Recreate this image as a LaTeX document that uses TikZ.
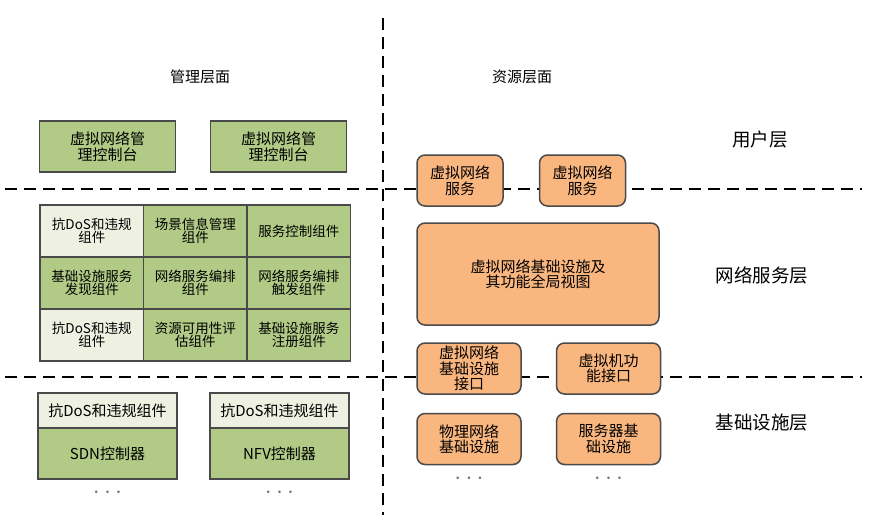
\documentclass[tikz,border=0pt]{standalone}
\usepackage{fontspec}
\setmainfont{Noto Sans CJK SC}
\usepackage{xcolor}
\definecolor{cGreen} {HTML}{B1CB86}
\definecolor{cLight} {HTML}{EEF1E2}
\definecolor{cOrange}{HTML}{F9B67F}
\definecolor{cEdge}  {HTML}{4A4A4A}
\usepackage{tikz}
\usetikzlibrary{positioning}
\tikzset{
  mgr/.style   = {rectangle, draw=cEdge, line width=1.5pt, fill=cGreen,
                  inner sep=0pt, outer sep=0pt, align=center,
                  minimum width=#1, minimum height=51pt,
                  font=\fontsize{15}{16}\selectfont},
  mgr/.default = 136pt,
  cell/.style  = {rectangle, draw=cEdge, line width=1.5pt, fill=cGreen,
                  inner sep=0pt, outer sep=0pt, align=center,
                  minimum width=103.5pt, minimum height=52pt,
                  font=\fontsize{13.5}{13}\selectfont},
  res/.style   = {rectangle, rounded corners=8pt, draw=cEdge, line width=1.5pt,
                  fill=cOrange, inner sep=0pt, align=center,
                  minimum width=#1, minimum height=51pt,
                  font=\fontsize{15}{15.5}\selectfont},
  res/.default = 104pt,
  sep/.style   = {line width=2pt, dash pattern=on 12pt off 7pt},
  lyr/.style   = {font=\fontsize{18.5}{20}\selectfont},
  ttl/.style   = {font=\fontsize{15}{16}\selectfont},
  more/.style  = {text=black!55, inner sep=0pt, font=\fontsize{24}{24}\selectfont},
}

\begin{document}
\begin{tikzpicture}[x=1pt, y=-1pt]
  \useasboundingbox (0,0) rectangle (880,520);

  % separators
  \coordinate (vtop) at (383,18);
  \coordinate (vbot) at (383,515);
  \coordinate (usrL) at (5,189);
  \coordinate (usrR) at (862,189);
  \coordinate (infL) at (5,377);
  \coordinate (infR) at (862,377);
  \draw[sep] (vtop) -- (vbot);
  \draw[sep] (usrL) -- (usrR);
  \draw[sep] (infL) -- (infR);

  \node[ttl] (mgmt) at (200,77) {管理层面};
  \node[ttl] (rsrc) at (522,77) {资源层面};

  \node[lyr] (user)  at (760,140) {用户层};
  \node[lyr] (nsvc)  at (762,275) {网络服务层};
  \node[lyr] (infra) at (762,423) {基础设施层};

  % management plane
  \node[mgr] (con1) at (107.5,146.5) {虚拟网络管\\理控制台};
  \node[mgr, right=35pt of con1] (con2) {虚拟网络管\\理控制台};

  \node[cell, fill=cLight] (g11) at (91.75,231) {抗DoS和违规\\组件};
  \node[cell, right=0pt of g11] (g12) {场景信息管理\\组件};
  \node[cell, right=0pt of g12] (g13) {服务控制组件};
  \node[cell, below=0pt of g11] (g21) {基础设施服务\\发现组件};
  \node[cell, right=0pt of g21] (g22) {网络服务编排\\组件};
  \node[cell, right=0pt of g22] (g23) {网络服务编排\\触发组件};
  \node[cell, fill=cLight, below=0pt of g21] (g31) {抗DoS和违规\\组件};
  \node[cell, right=0pt of g31] (g32) {资源可用性评\\估组件};
  \node[cell, right=0pt of g32] (g33) {基础设施服务\\注册组件};

  \node[mgr=139pt, fill=cLight, minimum height=35pt] (dos1) at (107.5,410.5)
        {抗DoS和违规组件};
  \node[mgr=139pt, below=0pt of dos1] (sdn) {SDN控制器};
  \node[mgr=139pt, fill=cLight, minimum height=35pt,
        right=33pt of dos1] (dos2) {抗DoS和违规组件};
  \node[mgr=139pt, below=0pt of dos2] (nfv) {NFV控制器};
  \node[more, below=14pt of sdn, anchor=center] (mSdn) {$\cdots$};
  \node[more, below=14pt of nfv, anchor=center] (mNfv) {$\cdots$};

  % resource plane
  \node[res=86pt] (svc1) at (460,180.5) {虚拟网络\\服务};
  \node[res=86pt, right=35pt of svc1] (svc2) {虚拟网络\\服务};

  \node[res=242pt, minimum height=102pt] (view) at (538,274)
        {虚拟网络基础设施及\\其功能全局视图};

  \node[res] (itf1) at (469,368.5) {虚拟网络\\基础设施\\接口};
  \node[res, right=34pt of itf1] (itf2) {虚拟机功\\能接口};
  \node[res, below=18pt of itf1] (phy1) {物理网络\\基础设施};
  \node[res, below=18pt of itf2] (phy2) {服务器基\\础设施};
  \node[more, below=14pt of phy1, anchor=center] (mPhy) {$\cdots$};
  \node[more, below=14pt of phy2, anchor=center] (mSrv) {$\cdots$};

\end{tikzpicture}
\end{document}
